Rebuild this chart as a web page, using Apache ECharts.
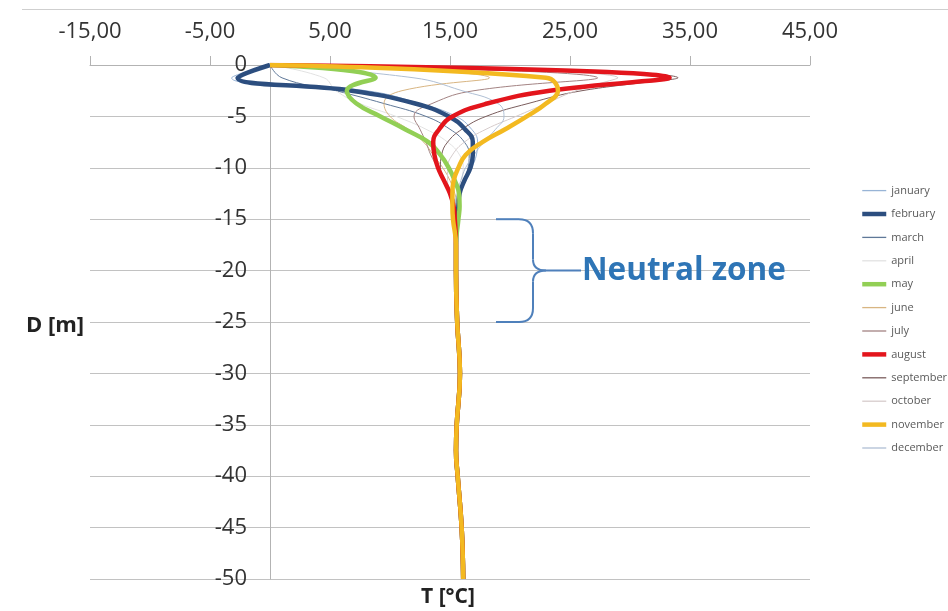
<!DOCTYPE html>
<html>
<head>
<meta charset="utf-8">
<script src="https://cdn.jsdelivr.net/npm/echarts@6/dist/echarts.min.js"></script>
<style>
  html, body { margin: 0; padding: 0; background: #fff; }
  #chart { width: 948px; height: 611px; }
</style>
</head>
<body>
<div id="chart"></div>
<script>
// Depth below ground (m) at which every monthly profile is sampled
const depth = [0, -1.25, -2.5, -3.75, -5, -6.25, -7.5, -8.75, -10, -11.25, -12.5, -13.75, -15,
               -17.5, -20, -25, -30, -35, -37.5, -40, -45, -50];

// Ground temperature (°C) per month, one value per depth above
const january   = [0, -3.2,  8.0, 12.5, 15.5, 16.8, 17.3, 17.2, 16.8, 16.3, 15.9, 15.6, 15.5,  15.5, 15.5, 15.6, 15.83, 15.56, 15.5, 15.64, 15.97, 16.1];
const february  = [0, -2.7,  6.8, 12.1, 14.9, 16.25, 16.9, 16.9, 16.7, 16.2, 15.8, 15.7, 15.6, 15.5, 15.5, 15.6, 15.83, 15.56, 15.5, 15.64, 15.97, 16.1];
const march     = [0,  1.0,  5.5,  9.5, 13.0, 15.0, 16.2, 16.6, 16.5, 16.2, 15.9, 15.7, 15.55, 15.5, 15.5, 15.6, 15.83, 15.56, 15.5, 15.64, 15.97, 16.1];
const april     = [0,  4.5,  5.5,  7.5, 10.5, 13.0, 14.8, 15.8, 16.1, 16.0, 15.9, 15.75, 15.6, 15.5, 15.5, 15.6, 15.83, 15.56, 15.5, 15.64, 15.97, 16.1];
const may       = [0,  8.8,  6.4,  7.2,  9.2, 11.25, 13.2, 14.2, 14.9, 15.4, 15.75, 15.8, 15.7, 15.5, 15.5, 15.6, 15.83, 15.56, 15.5, 15.64, 15.97, 16.1];
const june      = [0, 18.3, 11.0,  9.5, 10.0, 11.5, 12.8, 13.6, 14.4, 15.0, 15.4, 15.6, 15.5,  15.5, 15.5, 15.6, 15.83, 15.56, 15.5, 15.64, 15.97, 16.1];
const july      = [0, 27.3, 17.0, 13.5, 12.0, 12.5, 13.0, 13.4, 14.0, 14.6, 15.1, 15.5, 15.45, 15.5, 15.5, 15.6, 15.83, 15.56, 15.5, 15.64, 15.97, 16.1];
const august    = [0, 33.3, 23.3, 18.1, 15.2, 14.1, 13.6, 13.7, 14.0, 14.5, 15.0, 15.3, 15.4,  15.5, 15.5, 15.6, 15.83, 15.56, 15.5, 15.64, 15.97, 16.1];
const september = [0, 34.0, 26.0, 21.5, 18.0, 16.0, 14.8, 14.3, 14.2, 14.5, 14.9, 15.2, 15.35, 15.5, 15.5, 15.6, 15.83, 15.56, 15.5, 15.64, 15.97, 16.1];
const october   = [0, 29.0, 25.5, 23.0, 20.5, 18.0, 16.2, 15.2, 14.8, 14.8, 15.0, 15.2, 15.3,  15.5, 15.5, 15.6, 15.83, 15.56, 15.5, 15.64, 15.97, 16.1];
const november  = [0, 23.0, 24.0, 23.0, 21.4, 19.6, 17.7, 16.3, 15.7, 15.3, 15.2, 15.2, 15.25, 15.5, 15.5, 15.6, 15.83, 15.56, 15.5, 15.64, 15.97, 16.1];
const december  = [0, 12.0, 16.0, 19.0, 19.5, 18.8, 17.8, 17.0, 16.3, 15.9, 15.6, 15.4, 15.4,  15.5, 15.5, 15.6, 15.83, 15.56, 15.5, 15.64, 15.97, 16.1];

const monthNames = ['january', 'february', 'march', 'april', 'may', 'june',
                    'july', 'august', 'september', 'october', 'november', 'december'];
const monthTemps = [january, february, march, april, may, june,
                    july, august, september, october, november, december];

// Range of depths marked as the neutral zone
const neutralTop = -15;
const neutralMid = -20;
const neutralBottom = -25;
const neutralLabel = 'Neutral zone';

// Line styling per month: highlighted months are drawn thick
const monthColors = ['#98b4d6', '#2c4e7f', '#5f7898', '#e2e2e2', '#92cf55', '#d8b582',
                     '#a38383', '#e3151c', '#7a5d5d', '#d6cccc', '#f3b920', '#afbfd4'];
const thickMonths = ['february', 'may', 'august', 'november'];
const isThick = name => thickMonths.indexOf(name) >= 0;

const font = 'Open Sans';

const series = monthNames.map((name, m) => ({
  name: name,
  type: 'line',
  data: depth.map((d, i) => [monthTemps[m][i], d]),
  smooth: 0.45,
  showSymbol: false,
  symbol: 'none',
  z: isThick(name) ? 4 : 2,
  lineStyle: { color: monthColors[m], width: isThick(name) ? 4.5 : 1 },
  itemStyle: { color: monthColors[m] },
  emphasis: { disabled: true },
  silent: true
}));

const legendItems = monthNames.map((name, m) => ({
  name: name,
  lineStyle: { color: monthColors[m], width: isThick(name) ? 4.5 : 1.3 }
}));

const gridBox = { left: 90, right: 138, top: 65, bottom: 32 };
const chart = echarts.init(document.getElementById('chart'), null, { renderer: 'canvas' });

chart.setOption({
  animation: false,
  backgroundColor: '#ffffff',
  grid: gridBox,
  xAxis: {
    type: 'value',
    position: 'top',
    min: -15,
    max: 45,
    interval: 10,
    axisLine: { show: true, onZero: false, lineStyle: { color: '#b3b3b3', width: 1 } },
    axisTick: { show: true, length: 9, lineStyle: { color: '#b3b3b3' } },
    axisLabel: {
      margin: 22,
      fontFamily: font,
      fontSize: 22,
      color: '#333333',
      formatter: v => v.toFixed(2).replace('.', ',')
    },
    splitLine: { show: false }
  },
  yAxis: {
    type: 'value',
    min: -50,
    max: 0,
    interval: 5,
    offset: 0,
    axisLine: { show: true, onZero: false, lineStyle: { color: '#b3b3b3', width: 1 } },
    axisTick: { show: false },
    axisLabel: { margin: 23, fontFamily: font, fontSize: 22, color: '#333333' },
    splitLine: { show: true, lineStyle: { color: '#c2c2c2', width: 1 } }
  },
  legend: {
    orient: 'vertical',
    left: 855,
    top: 180,
    itemWidth: 24,
    itemHeight: 14,
    itemGap: 12.2,
    selectedMode: false,
    itemStyle: { opacity: 0 },
    textStyle: { fontFamily: font, fontSize: 11, color: '#595959' },
    data: legendItems
  },
  series: series
});

// Place the depth axis on the T = 0 line of the temperature scale
const xZero = chart.convertToPixel({ xAxisIndex: 0 }, 0);
chart.setOption({ yAxis: { offset: -(xZero - gridBox.left) } });

// Annotation: brace spanning the neutral zone, axis titles and the frame rule
const yTop = chart.convertToPixel({ yAxisIndex: 0 }, neutralTop);
const yMid = chart.convertToPixel({ yAxisIndex: 0 }, neutralMid);
const yBot = chart.convertToPixel({ yAxisIndex: 0 }, neutralBottom);
const bx0 = 496, bx1 = 533, bTip = 546, bEnd = 581, r = 14;
const braceStyle = { stroke: '#4f80bb', lineWidth: 2, fill: null };
const seg = (x1, y1, x2, y2) => ({ type: 'line', shape: { x1, y1, x2, y2 }, style: braceStyle, silent: true });
const curve = (x1, y1, cx, cy, x2, y2) => ({
  type: 'bezierCurve', shape: { x1, y1, x2, y2, cpx1: cx, cpy1: cy }, style: braceStyle, silent: true
});

const brace = [
  seg(bx0, yTop, bx1 - r, yTop),
  curve(bx1 - r, yTop, bx1, yTop, bx1, yTop + r),
  seg(bx1, yTop + r, bx1, yMid - 11),
  curve(bx1, yMid - 11, bx1, yMid, bTip, yMid),
  seg(bTip, yMid, bEnd, yMid),
  curve(bTip, yMid, bx1, yMid, bx1, yMid + 11),
  seg(bx1, yMid + 11, bx1, yBot - r),
  curve(bx1, yBot - r, bx1, yBot, bx1 - r, yBot),
  seg(bx1 - r, yBot, bx0, yBot)
];

chart.setOption({
  graphic: [
    {
      type: 'line',
      shape: { x1: 22, y1: 9.5, x2: 948, y2: 9.5 },
      style: { stroke: '#cfcfcf', lineWidth: 1 },
      silent: true
    },
    ...brace,
    {
      type: 'text',
      x: 582,
      y: yMid,
      style: {
        text: neutralLabel,
        fontFamily: font,
        fontWeight: 'bold',
        fontSize: 31.5,
        fill: '#2e75b6',
        align: 'left',
        verticalAlign: 'middle'
      },
      silent: true
    },
    {
      type: 'text',
      x: 55,
      y: 326,
      style: {
        text: 'D [m]',
        fontFamily: font,
        fontWeight: 'bold',
        fontSize: 22,
        fill: '#222222',
        align: 'center',
        verticalAlign: 'middle'
      },
      silent: true
    },
    {
      type: 'text',
      x: 448,
      y: 597,
      style: {
        text: 'T [°C]',
        fontFamily: font,
        fontWeight: 'bold',
        fontSize: 21,
        fill: '#222222',
        align: 'center',
        verticalAlign: 'middle'
      },
      silent: true
    }
  ]
});
</script>
</body>
</html>
